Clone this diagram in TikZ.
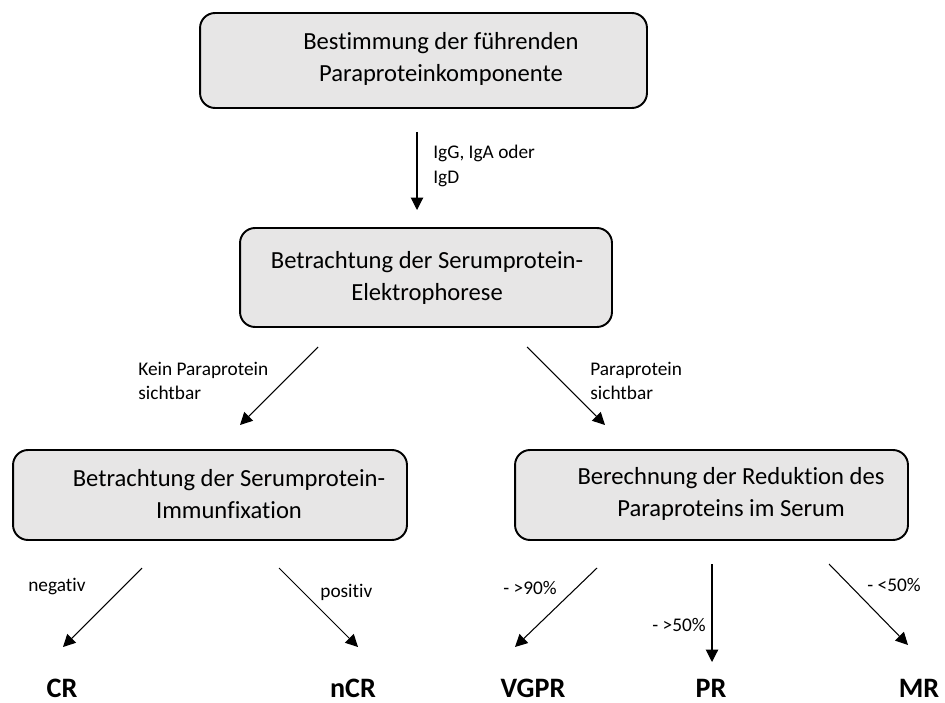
\documentclass[tikz,border=0pt]{standalone}
\usepackage{fontspec}
\setmainfont{Carlito}[Ligatures={NoCommon}]
\usepackage{tikz}
\usetikzlibrary{arrows.meta}
\definecolor{boxgray}{HTML}{E7E6E6}

\begin{document}
\begin{tikzpicture}[x=0.02cm, y=-0.02cm,
    box/.style={draw, line width=1.1pt, rounded corners=0.3cm, fill=boxgray, inner sep=0pt},
    boxtext/.style={align=center, font=\fontsize{14}{18}\selectfont, inner sep=0pt},
    lbl/.style={anchor=west, align=left, font=\fontsize{11}{14}\selectfont, inner sep=0pt},
    res/.style={font=\bfseries\fontsize{16}{19}\selectfont, inner sep=0pt},
    pfeil/.style={-{Triangle[length=7pt, width=7pt]}, line width=0.6pt}]
        \useasboundingbox (0,0) rectangle (945,702);

        \node[box, minimum width=8.94cm, minimum height=1.9cm] at (423.5, 60.5) (best) {};
        \node[boxtext] at (441, 59) (tbest) {Bestimmung der führenden\\Paraproteinkomponente};
        \node[box, minimum width=7.44cm, minimum height=1.98cm] at (426, 277.5) (elek) {};
        \node[boxtext] at (427, 278) (telek) {Betrachtung der Serumprotein-\\Elektrophorese};
        \node[box, minimum width=7.88cm, minimum height=1.8cm] at (210, 495) (immun) {};
        \node[boxtext] at (229, 494) (timmun) {Betrachtung der Serumprotein-\\Immunfixation};
        \node[box, minimum width=7.86cm, minimum height=1.8cm] at (711.5, 495) (reduk) {};
        \node[boxtext] at (731, 494) (treduk) {Berechnung der Reduktion des\\Paraproteins im Serum};

        % Ergebnisse
        \node[res] at (62, 688)  (cr)   {CR};
        \node[res] at (353, 688) (ncr)  {nCR};
        \node[res] at (533, 688) (vgpr) {VGPR};
        \node[res] at (711, 688) (pr)   {PR};
        \node[res] at (919, 688) (mr)   {MR};

        % Pfeilenden
        \coordinate (a1) at (417, 132);  \coordinate (a2) at (417, 210);
        \coordinate (b1) at (318, 347);  \coordinate (b2) at (240, 425);
        \coordinate (c1) at (527, 347);  \coordinate (c2) at (605, 425);
        \coordinate (d1) at (142, 568);  \coordinate (d2) at (63, 647);
        \coordinate (e1) at (279, 568);  \coordinate (e2) at (358, 647);
        \coordinate (f1) at (597, 568);  \coordinate (f2) at (515, 647);
        \coordinate (g1) at (712, 564);  \coordinate (g2) at (712, 662);
        \coordinate (h1) at (829, 564);  \coordinate (h2) at (908, 645);

        \draw[pfeil] (a1) -- (a2);
        \draw[pfeil] (b1) -- (b2);
        \draw[pfeil] (c1) -- (c2);
        \draw[pfeil] (d1) -- (d2);
        \draw[pfeil] (e1) -- (e2);
        \draw[pfeil] (f1) -- (f2);
        \draw[pfeil] (g1) -- (g2);
        \draw[pfeil] (h1) -- (h2);

        \node[lbl] at (433, 166) (la) {IgG, IgA oder\\IgD};
        \node[lbl] at (138, 381) (lb) {Kein Paraprotein\\sichtbar};
        \node[lbl] at (590, 381) (lc) {Paraprotein\\sichtbar};
        \node[lbl] at (28, 587)  (ld) {negativ};
        \node[lbl] at (320, 592) (le) {positiv};
        \node[lbl] at (503, 588) (lf) {- >90\%};
        \node[lbl] at (652, 625) (lg) {- >50\%};
        \node[lbl] at (867, 585) (lh) {- <50\%};
    \end{tikzpicture}
\end{document}
